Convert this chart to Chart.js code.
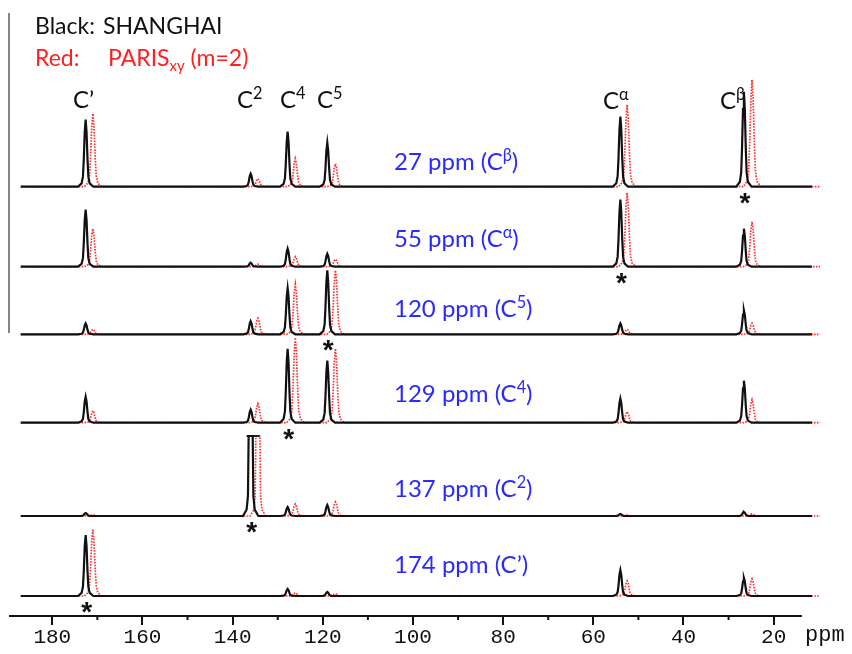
<!DOCTYPE html>
<html>
<head>
<meta charset="utf-8">
<title>SHANGHAI vs PARISxy slices</title>
<script src="https://cdn.jsdelivr.net/npm/chart.js@4.4.1/dist/chart.umd.min.js"></script>
<style>
    html, body { margin: 0; padding: 0; background: #fff; }
    #wrap { position: relative; width: 852px; height: 654px; }
</style>
</head>
<body>
<div id="wrap"><canvas id="nmrChart" width="852" height="654"></canvas></div>
<script>
// Peak order everywhere: C', C2, C4, C5, Calpha, Cbeta
const blackPeaks = [172.6, 136.0, 127.8, 119.0, 54.0, 26.6];   // ppm, SHANGHAI
const redPeaks   = [171.0, 134.4, 126.1, 117.2, 52.5, 24.8];   // ppm, PARISxy

// Slices (top to bottom), peak heights
const sliceNames = ['27 ppm', '55 ppm', '120 ppm', '129 ppm', '137 ppm', '174 ppm'];
const sliceSup   = ['β', 'α', '5', '4', '2', ''];
const sliceBase  = [429.3, 349.3, 281.7, 193.3, 100, 20];      // vertical offset of each slice
const starredPeak = [5, 4, 3, 2, 1, 0];

const black27  = [67, 13, 55, 44, 70, 95];
const red27    = [73, 8, 28, 23, 82, 107];
const black55  = [57, 4, 18, 13, 67, 38];
const red55    = [38, 2.5, 10, 7.5, 74, 45];
const black120 = [11, 13, 46, 64, 11, 24];
const red120   = [5, 16, 50, 64, 5, 11];
const black129 = [26, 13, 74, 62, 24, 42];
const red129   = [12, 19, 85, 74, 11, 23];
const black137 = [3, 80, 9, 11, 2, 4];      // C2 is clipped at the top
const red137   = [1, 80, 12, 14, 1, 2];
const black174 = [61, 0, 7, 4, 26, 18];
const red174   = [67, 0, 3, 2, 15, 17];

const blackSlices = [black27, black55, black120, black129, black137, black174];
const redSlices   = [red27, red55, red120, red129, red137, red174];
const clippedSlice = 4, clippedPeak = 1;

const xTicks = [180, 160, 140, 120, 100, 80, 60, 40, 20];
const xMinorTicks = [170, 150, 130, 110, 90, 70, 50, 30];

// line shape of one peak (ppm offset, fraction of height)
const peakShape = [[1.7, 0], [0.9, 0.05], [0.6, 0.15], [0.42, 0.4], [0.2, 0.82], [0, 1],
                   [-0.2, 0.82], [-0.42, 0.4], [-0.6, 0.15], [-0.9, 0.05], [-1.7, 0]];
const redShape  = [[1.9, 0], [1.1, 0.05], [0.75, 0.15], [0.52, 0.4], [0.25, 0.82], [0, 1],
                   [-0.25, 0.82], [-0.52, 0.4], [-0.75, 0.15], [-1.1, 0.05], [-1.9, 0]];
const clippedShape = [[1.7, 0], [0.9, 0.08], [0.6, 0.25], [0.45, 1], [-0.45, 1],
                      [-0.6, 0.25], [-0.9, 0.08], [-1.7, 0]];

function buildTrace(peaks, heights, base, xStart, xEnd, shapeOf, clipIdx) {
    const pts = [{ x: xStart, y: base }];
    peaks.forEach((p, i) => {
        if (heights[i] <= 0) return;
        const shape = i === clipIdx ? clippedShape : shapeOf;
        shape.forEach(s => pts.push({ x: p + s[0], y: base + heights[i] * s[1] }));
    });
    pts.push({ x: xEnd, y: base });
    return pts;
}

const datasets = [];
blackSlices.forEach((h, k) => {
    datasets.push({
        data: buildTrace(blackPeaks, h, sliceBase[k], 187, 11.5, peakShape, k === clippedSlice ? clippedPeak : -1),
        borderColor: '#111111',
        borderWidth: 2.2,
        pointRadius: 0,
        tension: 0,
        fill: false
    });
});
// little cap on the clipped C2 peak
datasets.push({
    data: [{ x: 136.9, y: sliceBase[clippedSlice] + black137[clippedPeak] },
           { x: 134.0, y: sliceBase[clippedSlice] + black137[clippedPeak] }],
    borderColor: '#222222',
    borderWidth: 2,
    pointRadius: 0,
    fill: false
});
redSlices.forEach((h, k) => {
    datasets.push({
        data: buildTrace(redPeaks, h, sliceBase[k], 187, 9.7, redShape, k === clippedSlice ? clippedPeak : -1),
        borderColor: '#ff3030',
        borderWidth: 1.7,
        borderDash: [1.6, 1.3],
        pointRadius: 0,
        tension: 0,
        fill: false
    });
});

// text with super/subscript pieces
function drawRich(ctx, parts, x, y, size, color, family) {
    ctx.fillStyle = color;
    ctx.textBaseline = 'alphabetic';
    ctx.textAlign = 'left';
    parts.forEach(p => {
        let fs = size, dy = 0;
        if (p.sup) { fs = size * 0.68; dy = -size * 0.38; }
        if (p.sub) { fs = size * 0.65; dy = size * 0.22; }
        ctx.font = fs + 'px ' + family;
        if (p.at !== undefined) x = p.at;
        ctx.fillText(p.t, x, y + dy);
        x += ctx.measureText(p.t).width;
    });
}

const annotations = {
    id: 'annotations',
    afterDraw(chart) {
        const ctx = chart.ctx;
        const xs = chart.scales.x, ys = chart.scales.y;
        const font = 'Lato, "Liberation Sans", sans-serif';
        ctx.save();

        // left frame line
        ctx.strokeStyle = '#858585';
        ctx.lineWidth = 2;
        ctx.beginPath();
        ctx.moveTo(9, 13);
        ctx.lineTo(9, 333);
        ctx.stroke();

        // axis line and minor ticks
        const axisY = chart.chartArea.bottom;
        ctx.strokeStyle = '#111';
        ctx.lineWidth = 2;
        ctx.beginPath();
        ctx.moveTo(xs.getPixelForValue(189.6), axisY);
        ctx.lineTo(xs.getPixelForValue(13.75), axisY);
        xMinorTicks.forEach(v => {
            const px = xs.getPixelForValue(v);
            ctx.moveTo(px, axisY);
            ctx.lineTo(px, axisY + 4);
        });
        ctx.stroke();

        ctx.fillStyle = '#111';
        ctx.font = '22px "Liberation Mono", monospace';
        ctx.textBaseline = 'alphabetic';
        ctx.fillText('ppm', 805, 641);

        // legend
        drawRich(ctx, [{ t: 'Black:', at: 35 }, { t: 'SHANGHAI', at: 103 }], 35, 34, 23, '#111', font);
        drawRich(ctx, [{ t: 'Red:', at: 35 }, { t: 'PARIS', at: 108 }, { t: 'xy', sub: true },
                       { t: ' (m=2)' }], 35, 66, 23, '#ff2020', font);

        // peak names
        const nameY = 108;
        drawRich(ctx, [{ t: 'C’' }], 73, nameY, 24, '#111', font);
        drawRich(ctx, [{ t: 'C' }, { t: '2', sup: true }], 237, nameY, 24, '#111', font);
        drawRich(ctx, [{ t: 'C' }, { t: '4', sup: true }], 280, nameY, 24, '#111', font);
        drawRich(ctx, [{ t: 'C' }, { t: '5', sup: true }], 317, nameY, 24, '#111', font);
        drawRich(ctx, [{ t: 'C' }, { t: 'α', sup: true }], 603, nameY + 1, 24, '#111', font);
        drawRich(ctx, [{ t: 'C' }, { t: 'β', sup: true }], 720, nameY + 1, 24, '#111', font);

        // slice labels and asterisks
        sliceNames.forEach((name, k) => {
            const baseY = ys.getPixelForValue(sliceBase[k]);
            const parts = sliceSup[k]
                ? [{ t: name + ' (C' }, { t: sliceSup[k], sup: true }, { t: ')' }]
                : [{ t: name + ' (C’)' }];
            const labelY = [170, 246.7, 316.7, 402, 496.7, 573][k];
            drawRich(ctx, parts, 394, labelY, 24, '#2a2aff', font);

            const px = xs.getPixelForValue(blackPeaks[starredPeak[k]]);
            ctx.font = 'bold 28px "Liberation Sans", sans-serif';
            ctx.fillStyle = '#111';
            ctx.textAlign = 'center';
            ctx.fillText('*', px + 1, baseY + 9 + 16);
            ctx.textAlign = 'left';
        });
        ctx.restore();
    }
};

new Chart(document.getElementById('nmrChart').getContext('2d'), {
    type: 'line',
    data: { datasets: datasets },
    options: {
        responsive: false,
        animation: false,
        layout: { padding: { left: 9, right: 31, top: 0, bottom: 3.8 } },
        plugins: { legend: { display: false }, tooltip: { enabled: false } },
        scales: {
            x: {
                type: 'linear',
                reverse: true,
                min: 9.5,
                max: 189.6,
                afterBuildTicks: s => { s.ticks = xTicks.map(v => ({ value: v })); },
                grid: { display: true, drawOnChartArea: false, drawTicks: true, tickLength: 9, color: '#111', lineWidth: 2 },
                border: { display: false },
                ticks: {
                    font: { family: '"Liberation Mono", monospace', size: 21 },
                    color: '#111',
                    padding: 0,
                    maxRotation: 0,
                    autoSkip: false
                }
            },
            y: {
                display: false,
                min: 0,
                max: 616
            }
        }
    },
    plugins: [annotations]
});
</script>
</body>
</html>
